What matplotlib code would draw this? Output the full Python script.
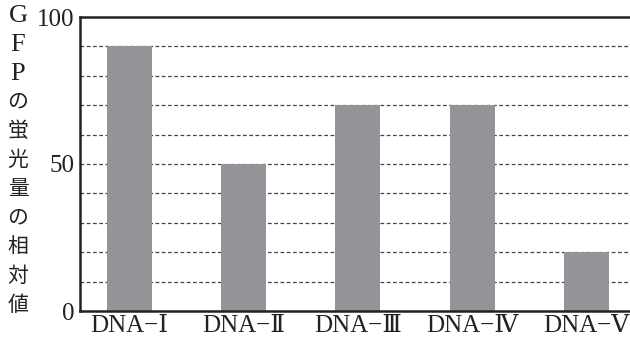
import matplotlib
matplotlib.use("Agg")
import matplotlib.pyplot as plt

categories = ["DNA−Ⅰ", "DNA−Ⅱ", "DNA−Ⅲ", "DNA−Ⅳ", "DNA−Ⅴ"]
values = [90, 50, 70, 70, 20]
yticks = [0, 50, 100]
ylabel_chars = list("GFPの蛍光量の相対値")

serif = ["Liberation Serif", "DejaVu Serif", "Noto Sans CJK JP"]

fig = plt.figure(figsize=(6.3, 3.39), dpi=100)
ax = fig.add_axes([80/630, 1 - 311/339, 550/630, (311-17)/339])

x = list(range(len(categories)))
ax.bar(x, values, width=0.394, color="#939498", zorder=2)
ax.set_xlim(-0.429, 4.38)
ax.set_ylim(0, 100)

for g in range(10, 100, 10):
    ax.axhline(g, color="#444444", lw=0.9, ls=(0, (3, 2)), zorder=1)

ax.set_yticks(yticks)
ax.set_yticklabels([str(v) for v in yticks])
ax.set_xticks(x)
ax.set_xticklabels(categories)
for lbl in ax.get_yticklabels():
    lbl.set_fontfamily(serif)
    lbl.set_fontsize(18)
    lbl.set_color("#222222")
for lbl in ax.get_xticklabels():
    lbl.set_fontfamily(serif)
    lbl.set_fontsize(18)
    lbl.set_color("#222222")
ax.tick_params(axis="both", length=0, pad=4)
ax.tick_params(axis="x", pad=3)

for s in ["left", "bottom", "top"]:
    ax.spines[s].set_linewidth(1.8)
    ax.spines[s].set_color("#222222")
ax.spines["right"].set_visible(False)

for i, ch in enumerate(ylabel_chars):
    fs = 19 if ch.isascii() else 15
    fig.text(18/630, 1 - (16 + 29*i)/339, ch, ha="center", va="center",
             fontsize=fs, fontfamily=["Liberation Serif", "Noto Sans CJK JP"], color="#222222")

fig.savefig("out.png", dpi=100)
